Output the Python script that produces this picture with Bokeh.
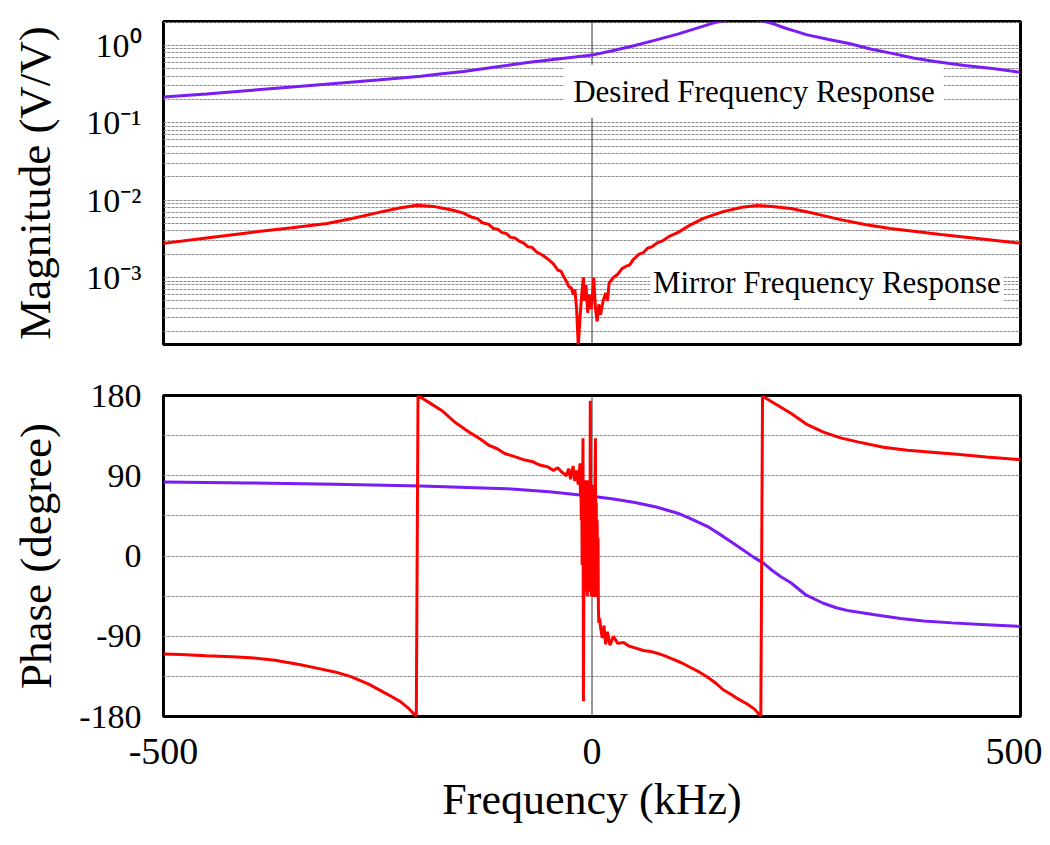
from bokeh.plotting import figure
from bokeh.layouts import column
from bokeh.models import Range1d, FixedTicker, Span, Label, CustomJSTickFormatter
from bokeh.embed import file_html
from bokeh.resources import INLINE

# ---------------- data ----------------
# Desired frequency response, magnitude (V/V)
f_mag_desired = [-500, -450, -400, -350, -300, -250, -200, -175, -150, -125, -100, -75, -50, -25, 0,
                 25, 50, 75, 100, 115, 130, 145, 160, 175, 190, 205, 215, 225, 240, 250, 275, 300,
                 325, 350, 375, 400, 435, 470, 500]
mag_desired = [0.215, 0.235, 0.262, 0.29, 0.322, 0.358, 0.40, 0.43, 0.46, 0.505, 0.55, 0.60, 0.65, 0.70, 0.75,
               0.86, 1.0, 1.18, 1.40, 1.58, 1.78, 2.0, 2.15, 2.2, 2.15, 2.0, 1.85, 1.68, 1.5, 1.38, 1.2, 1.06,
               0.90, 0.79, 0.69, 0.62, 0.55, 0.50, 0.45]

# Mirror frequency response, magnitude (V/V)
f_mag_mirror = [-500, -450, -400, -350, -309, -280, -250, -225, -204, -185, -162, -150, -140, -134,
                -128, -121, -115, -110, -105, -100, -95, -90, -85, -80, -75, -70, -65, -58, -52, -45,
                -40, -36, -33, -30, -27, -24, -22, -20,
                -18, -16, -14, -12, -10, -9, -7, -5, -3, -1, 1, 2, 4, 6, 8, 10, 13, 16, 18, 20,
                25, 30, 35, 40, 44, 48, 55, 60, 65, 70, 76, 83, 90, 100, 115, 130, 153, 175, 193, 210,
                232, 260, 290, 320, 348, 380, 407, 450, 500]
mag_mirror = [2.76e-3, 3.25e-3, 3.8e-3, 4.4e-3, 5.0e-3, 5.8e-3, 6.9e-3, 7.9e-3, 8.6e-3, 8.3e-3,
              7.4e-3, 6.8e-3, 6.0e-3, 5.8e-3, 5.1e-3, 4.9e-3, 4.3e-3, 4.2e-3, 3.8e-3, 3.7e-3,
              3.3e-3, 3.25e-3, 2.95e-3, 2.8e-3, 2.5e-3, 2.45e-3, 2.15e-3, 1.95e-3, 1.75e-3, 1.5e-3,
              1.25e-3, 1.2e-3, 1.02e-3, 9.0e-4, 7.6e-4, 7.3e-4, 6.0e-4, 7.0e-4,
              4.0e-4, 1.3e-4, 3.0e-4, 6.0e-4, 1.0e-3, 5.0e-4, 8.0e-4, 3.5e-4, 6.0e-4, 3.9e-4,
              7.0e-4, 1.0e-3, 4.0e-4, 2.7e-4, 4.5e-4, 3.3e-4, 5.0e-4, 6.3e-4, 5.0e-4, 8.5e-4,
              1.0e-3, 1.1e-3, 1.3e-3, 1.4e-3, 1.45e-3, 1.7e-3, 2.0e-3, 2.1e-3, 2.4e-3, 2.5e-3,
              2.8e-3, 3.0e-3, 3.4e-3, 3.8e-3, 4.8e-3, 5.8e-3, 7.1e-3, 8.1e-3, 8.5e-3, 8.3e-3,
              7.8e-3, 6.7e-3, 5.6e-3, 4.8e-3, 4.3e-3, 3.9e-3, 3.6e-3, 3.2e-3, 2.76e-3]

# Desired frequency response, phase (degree)
f_ph_desired = [-500, -400, -300, -200, -100, -50, 0, 25, 50, 75, 100, 115, 135, 153, 170, 188,
                200, 210, 220, 232, 250, 270, 285, 300, 330, 360, 387, 420, 460, 500]
ph_desired = [83, 82, 80.5, 78.5, 75.5, 72, 67, 64, 60, 55, 48, 42, 33, 22, 11, -1,
              -8, -16, -23, -30, -44, -53, -58, -61.5, -66, -70, -73, -75, -77, -79]

# Mirror frequency response, phase (degree)
f_ph_mirror = [-500, -480, -450, -420, -398, -370, -340, -320, -300, -282, -260, -243, -235, -224,
               -215, -205, -203, -190, -175, -160, -141, -130, -120, -110, -102, -92, -80, -70,
               -61, -52, -45, -40, -35, -30, -27, -25, -22, -20, -18, -16,
               -14, -13.5, -13, -12.5, -12, -11.5, -11, -10.5, -10, -9.5, -9, -8.5, -8, -7.5, -7,
               -6.5, -6, -5.5, -5, -4.5, -4, -3.5, -3, -2.5, -2, -1.5, -1, -0.5, 0, 0.5, 1, 1.5,
               2, 2.5, 3, 3.5, 4, 4.5, 5, 5.5, 6, 6.5, 7, 7.5, 8, 9,
               10, 12, 14, 16, 18, 21, 25, 30, 37, 43, 50, 60, 68, 76, 85, 95, 105, 115, 125,
               135, 145, 153, 162, 170, 181, 190, 197, 199, 201, 215, 232, 250, 270, 290, 310,
               340, 368, 400, 426, 460, 500]
ph_mirror = [-110, -110.5, -112, -113, -114, -117, -122, -126, -130, -135, -144, -153, -157, -163,
             -170, -180, 180, 172, 163, 150, 137.5, 131, 124, 120, 115, 112, 108, 106,
             102, 100, 96, 99, 94, 90, 98, 86, 101, 84, 96, 80,
             104, 70, 88, 40, 86, -10, 70, 132, -163, -40, 80, -20, 60, -40, 85,
             -10, 80, -45, 70, 0, 85, -30, 60, -40, 174, 20, -45, 70, -30, 80, -40, 60,
             -46, 50, -30, 85, 132, -20, 60, -46, 40, -40, 20, -60, -75, -70,
             -80, -92, -78, -99, -85, -100, -90, -98, -97, -101, -103, -106, -107, -109, -112, -116, -120, -125, -130,
             -136, -143, -150, -155, -160, -166, -172, -180, 180, 178, 170, 160, 148, 139, 132.5, 128,
             122, 118.5, 116, 114, 111, 108]

x_ticks = [-500, 0, 500]
mag_ticks = [1e-3, 1e-2, 1e-1, 1e0]
mag_minor = [k * 10.0 ** e for e in (-4, -3, -2, -1, 0) for k in range(2, 10)]
ph_ticks = [-180, -90, 0, 90, 180]
ph_minor = [-135, -45, 45, 135]

# ---------------- styling ----------------
FONT = "Liberation Serif"
PURPLE = "#7A1CF4"
RED = "#FF0000"
GRID = "#8c8c8c"


def style(p):
    p.outline_line_color = "black"
    p.outline_line_width = 3
    p.background_fill_color = "white"
    p.border_fill_color = "white"
    p.xgrid.visible = False
    p.ygrid.grid_line_color = GRID
    p.ygrid.grid_line_dash = "3 1"
    p.ygrid.grid_line_width = 1
    p.ygrid.minor_grid_line_color = GRID
    p.ygrid.minor_grid_line_dash = "3 1"
    p.ygrid.minor_grid_line_width = 1
    for ax in (p.xaxis[0], p.yaxis[0]):
        ax.axis_line_color = None
        ax.major_tick_line_color = None
        ax.minor_tick_line_color = None
        ax.major_tick_out = 0
        ax.major_tick_in = 0
        ax.minor_tick_out = 0
        ax.minor_tick_in = 0
        ax.major_label_text_font = FONT
        ax.major_label_text_color = "black"
        ax.axis_label_text_font = FONT
        ax.axis_label_text_font_style = "normal"
        ax.axis_label_text_color = "black"
    p.add_layout(Span(location=0, dimension="height", line_color="#333333",
                      line_width=1, level="underlay"))


# ---------------- top panel: magnitude ----------------
p1 = figure(frame_width=857, frame_height=323,
            x_range=Range1d(-500, 500), y_range=Range1d(1.36e-4, 2.04),
            y_axis_type="log", output_backend="svg", toolbar_location=None,
            min_border_left=163, min_border_right=22, min_border_top=21, min_border_bottom=26)
style(p1)
p1.xaxis.visible = False
mag_ticker = FixedTicker(ticks=mag_ticks, minor_ticks=mag_minor)
p1.yaxis.ticker = mag_ticker
p1.ygrid.ticker = mag_ticker
p1.yaxis.formatter = CustomJSTickFormatter(code="""
    const e = Math.round(Math.log10(tick));
    const sup = {"0": "\u2070", "1": "\u00b9", "2": "\u00b2", "3": "\u00b3", "-": "\u207b"};
    return "10" + String(e).split("").map(c => sup[c]).join("");
""")
p1.yaxis.major_label_text_font_size = "34px"
p1.yaxis.major_label_standoff = 22
p1.yaxis.axis_label = "Magnitude (V/V)"
p1.yaxis.axis_label_text_font_size = "45px"
p1.yaxis.axis_label_standoff = 23

p1.line(f_mag_desired, mag_desired, line_color=PURPLE, line_width=3)
p1.line(f_mag_mirror, mag_mirror, line_color=RED, line_width=3)

p1.add_layout(Label(x=189, y=0.255, text="Desired Frequency Response",
                    text_font=FONT, text_font_size="31px", text_color="black",
                    text_align="center", text_baseline="middle",
                    background_fill_color="white", padding=9))
p1.add_layout(Label(x=274, y=8.5e-4, text="Mirror Frequency Response",
                    text_font=FONT, text_font_size="31px", text_color="black",
                    text_align="center", text_baseline="middle",
                    background_fill_color="white", padding=3))

# ---------------- bottom panel: phase ----------------
p2 = figure(frame_width=857, frame_height=321,
            x_range=Range1d(-500, 500), y_range=Range1d(-180, 180),
            output_backend="svg", toolbar_location=None,
            min_border_left=163, min_border_right=22, min_border_top=25, min_border_bottom=10)
style(p2)
ph_ticker = FixedTicker(ticks=ph_ticks, minor_ticks=ph_minor)
p2.yaxis.ticker = ph_ticker
p2.ygrid.ticker = ph_ticker
p2.yaxis.formatter = CustomJSTickFormatter(code="return tick.toFixed(0);")
p2.yaxis.major_label_text_font_size = "34px"
p2.yaxis.major_label_standoff = 22
p2.yaxis.axis_label = "Phase (degree)"
p2.yaxis.axis_label_text_font_size = "45px"
p2.yaxis.axis_label_standoff = 15

p2.xaxis.ticker = FixedTicker(ticks=x_ticks)
p2.xaxis.formatter = CustomJSTickFormatter(code="return tick.toFixed(0);")
p2.xaxis.major_label_text_font_size = "38px"
p2.xaxis.major_label_standoff = 22
p2.xaxis.axis_label = "Frequency (kHz)"
p2.xaxis.axis_label_text_font_size = "44px"
p2.xaxis.axis_label_standoff = 8

p2.line(f_ph_desired, ph_desired, line_color=PURPLE, line_width=3)
p2.line(f_ph_mirror, ph_mirror, line_color=RED, line_width=3)

layout = column(p1, p2, spacing=0)
open("out.html", "w").write(file_html(layout, INLINE))
